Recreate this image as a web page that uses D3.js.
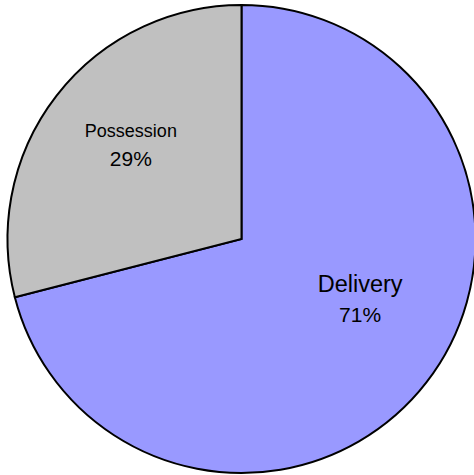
<!DOCTYPE html>
<html><head><meta charset="utf-8">
<script src="https://cdn.jsdelivr.net/npm/d3@7"></script>
<style>html,body{margin:0;padding:0;background:#fff;overflow:hidden}</style>
</head><body>
<svg id="c" width="474" height="475"></svg>
<script>
const categories = ["Delivery", "Possession"];
const values = [71, 29];
const percentLabels = ["71%", "29%"];
const colors = ["#9999ff", "#c0c0c0"];

const svg = d3.select("#c");
const cx = 241.5, cy = 239, r = 234;
const g = svg.append("g").attr("transform", `translate(${cx},${cy})`);

const pie = d3.pie().sort(null).value(d => d.v);
const data = pie(categories.map((c, i) => ({c, v: values[i], p: percentLabels[i], col: colors[i]})));
const arc = d3.arc().innerRadius(0).outerRadius(r);

g.selectAll("path").data(data).enter().append("path")
  .attr("d", arc)
  .attr("fill", d => d.data.col)
  .attr("stroke", "#000")
  .attr("stroke-width", 2)
  .attr("stroke-linejoin", "miter");

// label styling per slice (sizes and offsets are presentation only)
const labelStyle = {
  "Delivery":   {size: 23.5, pctSize: 21, R: 140, dx: 8, dy: -26, gap: 30},
  "Possession": {size: 18, pctSize: 21, R: 140, dx: 0, dy: -8, gap: 29}
};
const labelArc = d3.arc();
const lbl = g.selectAll("g.lbl").data(data).enter().append("g").attr("class", "lbl")
  .attr("transform", d => {
    const s = labelStyle[d.data.c];
    const [x, y] = labelArc.innerRadius(s.R).outerRadius(s.R).centroid(d);
    return `translate(${x + s.dx},${y + s.dy})`;
  });
lbl.append("text")
  .attr("text-anchor", "middle")
  .attr("font-family", "Liberation Sans, Arial, Helvetica, sans-serif")
  .attr("font-size", d => labelStyle[d.data.c].size)
  .attr("fill", "#000")
  .attr("y", d => -labelStyle[d.data.c].gap / 2 + labelStyle[d.data.c].size * 0.35)
  .text(d => d.data.c);
lbl.append("text")
  .attr("text-anchor", "middle")
  .attr("font-family", "Liberation Sans, Arial, Helvetica, sans-serif")
  .attr("font-size", d => labelStyle[d.data.c].pctSize)
  .attr("fill", "#000")
  .attr("y", d => labelStyle[d.data.c].gap / 2 + labelStyle[d.data.c].size * 0.35)
  .text(d => d.data.p);
</script>
</body></html>
